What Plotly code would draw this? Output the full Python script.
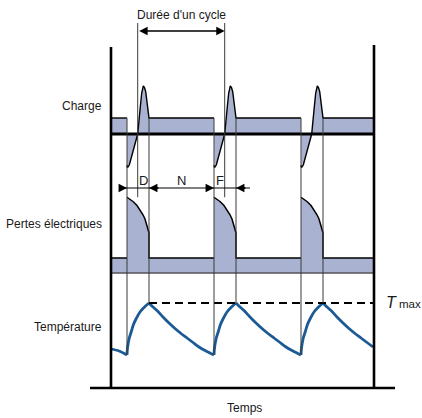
import plotly.graph_objects as go

# ---------------- data ----------------
cycle_starts = [1.6, 10.3, 19.0]          # instants where each cycle starts (time units)
t_end = 26.3                              # end of observed window
start_duration = 2.2                      # D
crossing_dt = 1.07                        # load crosses zero after cycle start
charge_level = 1.0
charge_pulse_dt = [0.0, 0.05, 0.23, 0.47, 0.8, 1.07, 1.3, 1.47, 1.63, 1.75, 1.87, 2.03, 2.2]
charge_pulse_v = [-1.95, -2.1, -1.94, -1.42, -0.69, 0.0, 1.5, 2.56, 3.0, 2.9, 2.64, 1.94, 1.0]
loss_level = 1.0
loss_pulse_dt = [0.0, 0.3, 0.63, 1.0, 1.3, 1.6, 1.8, 2.0, 2.13, 2.2]
loss_pulse_v = [5.05, 4.93, 4.75, 4.5, 4.2, 3.88, 3.6, 3.2, 2.87, 2.67]
temp_start = 39
heat_dt = [0, 0.05, 0.23, 0.45, 0.63, 0.9, 1.3, 1.75, 2.2]
heat_T = [33, 40, 50, 57, 63, 69, 76, 81, 85]
cool_dt = [0, 0.4, 0.8, 1.4, 2.0, 2.6, 3.2, 3.8, 4.4, 5.0, 5.7, 6.5]
cool_T = [85, 81, 77.5, 71, 65, 59.5, 54.5, 50, 45.5, 41, 37, 33]
t_max = 85
labels_panels = ["Charge", "Pertes électriques", "Température"]

# ---------------- geometry / style ----------------
W, H = 422, 418
X_RANGE = [-11.1, 31.1]
Y_CHARGE = [-17.75, 8.375]
Y_LOSS = [-9.667, 18.2]
Y_TEMP = [-30, 388]
FILL = "#a9b3d1"
TEMP_COLOR = "#1b5a94"
GUIDE = "#3a3a3a"
FONT = "Liberation Sans, Arial, sans-serif"
TXT = "#1a1a1a"


def to_paper(v, rng):
    return (v - rng[0]) / (rng[1] - rng[0])


def xdata(px):
    return X_RANGE[0] + px / W * (X_RANGE[1] - X_RANGE[0])


def ypaper(py):
    return 1 - py / H


fig = go.Figure()

# ---- charge: fill polygon and outline ----
cx, cy = [0.0], [charge_level]
ox, oy = [0.0], [charge_level]
for t0 in cycle_starts:
    cx += [t0, t0]
    cy += [charge_level, charge_pulse_v[0]]
    ox += [t0, None]
    oy += [charge_level, None]
    for dt, v in zip(charge_pulse_dt, charge_pulse_v):
        cx.append(t0 + dt)
        cy.append(v)
        ox.append(t0 + dt)
        oy.append(v)
cx += [t_end, t_end, 0.0]
cy += [charge_level, 0.0, 0.0]
ox += [t_end]
oy += [charge_level]
fig.add_trace(go.Scatter(x=cx, y=cy, fill="toself", fillcolor=FILL, mode="lines",
                         line=dict(width=0), yaxis="y", hoverinfo="skip"))
fig.add_trace(go.Scatter(x=ox, y=oy, mode="lines", line=dict(color="black", width=1.4),
                         yaxis="y", connectgaps=False, hoverinfo="skip"))
fig.add_trace(go.Scatter(x=[0, t_end], y=[0, 0], mode="lines",
                         line=dict(color="black", width=3), yaxis="y", hoverinfo="skip"))

# ---- losses ----
lx, ly = [0.0], [loss_level]
lox, loy = [0.0], [loss_level]
for t0 in cycle_starts:
    lx += [t0, t0]
    ly += [loss_level, loss_pulse_v[0]]
    lox += [t0, None]
    loy += [loss_level, None]
    for dt, v in zip(loss_pulse_dt, loss_pulse_v):
        lx.append(t0 + dt)
        ly.append(v)
        lox.append(t0 + dt)
        loy.append(v)
    lx.append(t0 + loss_pulse_dt[-1])
    ly.append(loss_level)
    lox.append(t0 + loss_pulse_dt[-1])
    loy.append(loss_level)
lx += [t_end, t_end, 0.0]
ly += [loss_level, 0.0, 0.0]
lox += [t_end]
loy += [loss_level]
fig.add_trace(go.Scatter(x=lx, y=ly, fill="toself", fillcolor=FILL, mode="lines",
                         line=dict(width=0), yaxis="y2", hoverinfo="skip"))
fig.add_trace(go.Scatter(x=[0, t_end], y=[0, 0], mode="lines",
                         line=dict(color="#555555", width=1.5), yaxis="y2", hoverinfo="skip"))
fig.add_trace(go.Scatter(x=lox, y=loy, mode="lines", line=dict(color="black", width=1.5),
                         yaxis="y2", connectgaps=False, hoverinfo="skip"))

# ---- temperature ----
tx, ty = [0.0], [temp_start]
first_peak = cycle_starts[0] - cool_dt[-1]
for dt, T in zip(cool_dt, cool_T):
    if first_peak + dt > 0.15:
        tx.append(first_peak + dt)
        ty.append(T)
for i, t0 in enumerate(cycle_starts):
    tx.append(None)
    ty.append(None)
    for dt, T in zip(heat_dt, heat_T):
        tx.append(t0 + dt)
        ty.append(T)
    tx.append(None)
    ty.append(None)
    tp = t0 + heat_dt[-1]
    for dt, T in zip(cool_dt, cool_T):
        if tp + dt <= t_end + 1e-9:
            tx.append(tp + dt)
            ty.append(T)
fig.add_trace(go.Scatter(x=tx, y=ty, mode="lines", line=dict(color=TEMP_COLOR, width=2.8, shape="spline", smoothing=0.8),
                         yaxis="y3", connectgaps=False, hoverinfo="skip"))
fig.add_trace(go.Scatter(x=[cycle_starts[0] + start_duration, t_end + 0.1], y=[t_max, t_max], mode="lines",
                         line=dict(color="black", width=2, dash="8px,5px"), yaxis="y3", hoverinfo="skip"))

# ---- frame & guide lines ----
shapes = []


def vline(x, y0, y1, color="black", width=1.0):
    shapes.append(dict(type="line", xref="x", yref="paper", x0=x, x1=x, y0=y0, y1=y1,
                       line=dict(color=color, width=width), layer="above"))


vline(0, ypaper(47), ypaper(388), width=2.6)
vline(t_end, ypaper(45), ypaper(388), width=2.6)
shapes.append(dict(type="line", xref="x", yref="paper", x0=xdata(90), x1=xdata(395),
                   y0=ypaper(388), y1=ypaper(388), line=dict(color="black", width=2.6)))

for i, t0 in enumerate(cycle_starts):
    vline(t0, to_paper(charge_level, Y_CHARGE), to_paper(heat_T[0], Y_TEMP), GUIDE, 1.0)
    vline(t0 + start_duration, to_paper(charge_level, Y_CHARGE), to_paper(t_max, Y_TEMP), GUIDE, 1.0)
    if i < 2:
        vline(t0 + crossing_dt, ypaper(23), to_paper(loss_pulse_v[0], Y_LOSS), GUIDE, 1.0)

# D/N/F dimension line
y_dim = ypaper(188)
shapes.append(dict(type="line", xref="x", yref="paper", x0=xdata(122), x1=xdata(250),
                   y0=y_dim, y1=y_dim, line=dict(color="black", width=1.2)))

annotations = []


def arrow(x_head, x_tail, y, side="end"):
    annotations.append(dict(x=x_head, y=y, xref="x", yref="paper", ax=x_tail, ay=0,
                            axref="x", ayref="pixel", showarrow=True, arrowhead=2,
                            arrowsize=1.3, arrowwidth=1.3, arrowcolor="black", text="",
                            arrowside=side, standoff=0, startstandoff=0))


c1 = cycle_starts[0] + crossing_dt
c2 = cycle_starts[1] + crossing_dt
arrow(c2, c1, ypaper(31), "end+start")
for t0 in cycle_starts[:2]:
    arrow(t0, t0 - 0.5, y_dim)
    arrow(t0 + start_duration, t0 + start_duration + 1.1, y_dim)


def label(text, x, y, anchor="center", size=12, xref="paper"):
    annotations.append(dict(text=text, x=x, y=y, xref=xref, yref="paper", showarrow=False,
                            xanchor=anchor, yanchor="middle", font=dict(size=size, color=TXT, family=FONT)))


label("Durée d'un cycle", (c1 + c2) / 2, ypaper(15), xref="x")
label("D", xdata(143.5), ypaper(180), size=13, xref="x")
label("N", xdata(181), ypaper(180), size=13, xref="x")
label("F", xdata(219.5), ypaper(180), size=13, xref="x")
label(labels_panels[0], 104 / W, ypaper(106), "right")
label(labels_panels[1], 103.5 / W, ypaper(224), "right")
label(labels_panels[2], 103.5 / W, ypaper(327), "right")
label("Temps", xdata(244.5), ypaper(408), xref="x")
label('<i><span style="font-size:16px">T</span></i> max', xdata(384), to_paper(t_max, Y_TEMP) + 0.002,
      "left", size=11.5, xref="x")

ax_common = dict(visible=False, showgrid=False, zeroline=False, fixedrange=True)
fig.update_layout(
    width=W, height=H, margin=dict(l=0, r=0, t=0, b=0),
    paper_bgcolor="white", plot_bgcolor="white", showlegend=False,
    xaxis=dict(range=X_RANGE, **ax_common),
    yaxis=dict(range=Y_CHARGE, **ax_common),
    yaxis2=dict(range=Y_LOSS, overlaying="y", **ax_common),
    yaxis3=dict(range=Y_TEMP, overlaying="y", **ax_common),
    shapes=shapes, annotations=annotations,
    font=dict(family=FONT, color=TXT),
)

fig.write_html("out.html", config={"displayModeBar": False},
               post_script="document.body.style.margin='0';")
